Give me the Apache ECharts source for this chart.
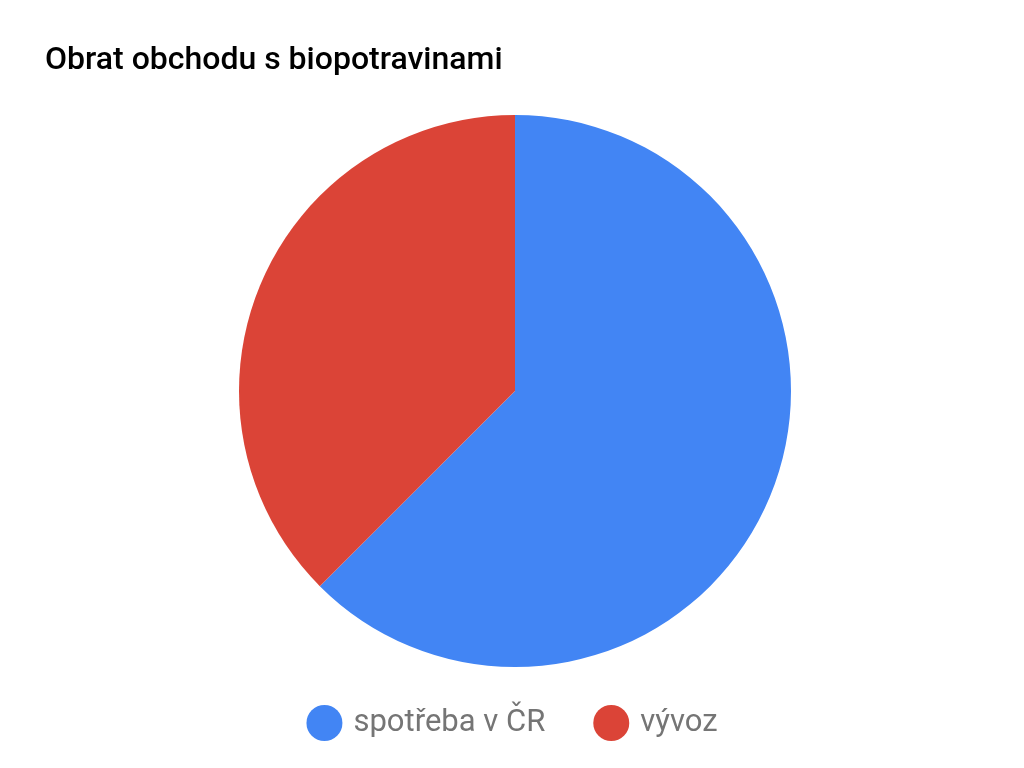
<!DOCTYPE html>
<html><head><meta charset="utf-8">
<script src="https://cdn.jsdelivr.net/npm/echarts@6/dist/echarts.min.js"></script>
<style>html,body{margin:0;padding:0;background:#fff}#c{width:1024px;height:768px}</style>
</head><body><div id="c"></div>
<script>
const categories = ["spotřeba v ČR", "vývoz"];
const values = [62.5, 37.5];
const colors = ["#4285f4", "#db4437"];
const chart = echarts.init(document.getElementById('c'));
chart.setOption({
  animation: false,
  title: { text: "Obrat obchodu s biopotravinami", left: 40, top: 40,
    textStyle: { fontFamily: "Roboto", fontSize: 32, fontWeight: 500, color: "#000" } },
  legend: { bottom: 22, left: 'center', icon: 'circle', itemWidth: 36, itemHeight: 36, itemGap: 48,
    textStyle: { fontFamily: "Roboto", fontSize: 31, color: "#757575", padding: [0,0,0,6] },
    data: categories },
  series: [{
    type: 'pie', center: [515, 391], radius: 276, startAngle: 90, clockwise: true,
    label: { show: false }, labelLine: { show: false },
    itemStyle: { borderWidth: 0 },
    emphasis: { disabled: true },
    data: categories.map((n, i) => ({ name: n, value: values[i], itemStyle: { color: colors[i] } }))
  }]
});
</script></body></html>
